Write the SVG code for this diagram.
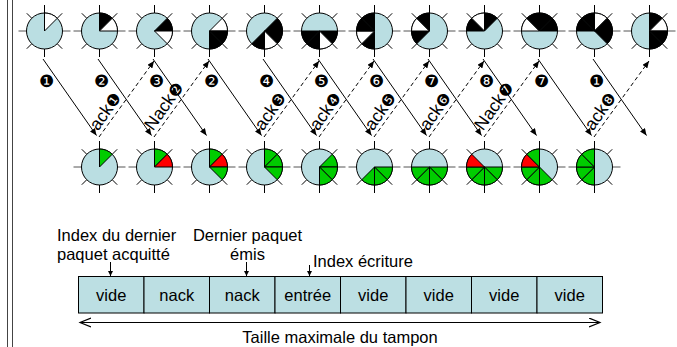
<svg xmlns="http://www.w3.org/2000/svg" xmlns:xlink="http://www.w3.org/1999/xlink" width="677" height="347" viewBox="0 0 677 347">
<style>
.k{fill:#000;stroke:#000;stroke-width:1}
.w{fill:#fff;stroke:#000;stroke-width:1}
.g{fill:#00CC00;stroke:#000;stroke-width:1}
.r{fill:#FF0000;stroke:#000;stroke-width:1}
.txt{font-family:"Liberation Sans",Arial,sans-serif;font-size:16.5px;fill:#000}
.lab{font-family:"Liberation Sans",Arial,sans-serif;font-size:17.5px;fill:#000}
.num{font-family:"DejaVu Sans",sans-serif;font-size:17px;fill:#000}
.num2{font-family:"DejaVu Sans",sans-serif;font-size:16px;fill:#000}
.solid{stroke:#000;stroke-width:1;fill:none;marker-end:url(#ah)}
.dash{stroke:#000;stroke-width:1;fill:none;stroke-dasharray:4 3;marker-end:url(#ah)}
.cell{fill:#BCDFE3;stroke:#000;stroke-width:1}
</style>
<defs>
<marker id="ah" markerUnits="userSpaceOnUse" markerWidth="8" markerHeight="6" refX="7" refY="3" orient="auto">
<path d="M0,0 L7,3 L0,6 Z" fill="#000"/>
</marker>
<marker id="ah2" markerUnits="userSpaceOnUse" markerWidth="6" markerHeight="6" refX="5" refY="2.5" orient="auto">
<path d="M0,0 L5,2.5 L0,5 Z" fill="#000"/>
</marker>
<marker id="chev" markerUnits="userSpaceOnUse" markerWidth="14" markerHeight="12" refX="11" refY="5" orient="auto-start-reverse">
<path d="M0,0.5 L11,5 L0,9.5" fill="none" stroke="#000" stroke-width="1.2"/>
</marker>
<path id="s0" d="M0,0 L0,-18 A18,18 0 0 1 12.728,-12.728 Z"/>
<path id="s1" d="M0,0 L12.728,-12.728 A18,18 0 0 1 18,0 Z"/>
<path id="s2" d="M0,0 L18,0 A18,18 0 0 1 12.728,12.728 Z"/>
<path id="s3" d="M0,0 L12.728,12.728 A18,18 0 0 1 0,18 Z"/>
<path id="s4" d="M0,0 L0,18 A18,18 0 0 1 -12.728,12.728 Z"/>
<path id="s5" d="M0,0 L-12.728,12.728 A18,18 0 0 1 -18,0 Z"/>
<path id="s6" d="M0,0 L-18,0 A18,18 0 0 1 -12.728,-12.728 Z"/>
<path id="s7" d="M0,0 L-12.728,-12.728 A18,18 0 0 1 0,-18 Z"/>
<g id="dial">
<path d="M0,-18V-26 M0,18V26 M12.73,-12.73L17.7,-17.7 M12.73,12.73L17.7,17.7 M-12.73,12.73L-17.7,17.7 M-12.73,-12.73L-17.7,-17.7" stroke="#000" stroke-width="1" fill="none"/>
<path d="M-18,0H-26 M18,0H26" stroke="#555" stroke-width="1" fill="none"/>
<circle r="18" fill="#BADEE2" stroke="#000" stroke-width="1"/>
</g>
</defs>

<rect width="677" height="347" fill="#fff"/>
<g id="frame"><line x1="7.5" y1="0" x2="7.5" y2="347" stroke="#444"/><line x1="12.5" y1="0" x2="12.5" y2="347" stroke="#444"/></g>

<!-- top row (sender) -->
<g id="t0" transform="translate(44.5,31)"><use xlink:href="#dial"/><use xlink:href="#s0" class="w"/></g>
<g id="t1" transform="translate(99.5,31)"><use xlink:href="#dial"/><use xlink:href="#s0" class="k"/><use xlink:href="#s1" class="w"/></g>
<g id="t2" transform="translate(154.5,31)"><use xlink:href="#dial"/><use xlink:href="#s1" class="k"/><use xlink:href="#s2" class="w"/></g>
<g id="t3" transform="translate(209.5,31)"><use xlink:href="#dial"/><use xlink:href="#s1" class="w"/><use xlink:href="#s2" class="k"/><use xlink:href="#s3" class="k"/></g>
<g id="t4" transform="translate(264.5,31)"><use xlink:href="#dial"/><use xlink:href="#s1" class="k"/><use xlink:href="#s2" class="k"/><use xlink:href="#s3" class="w"/><use xlink:href="#s4" class="k"/></g>
<g id="t5" transform="translate(319.5,31)"><use xlink:href="#dial"/><use xlink:href="#s2" class="k"/><use xlink:href="#s3" class="w"/><use xlink:href="#s4" class="k"/><use xlink:href="#s5" class="k"/></g>
<g id="t6" transform="translate(374.5,31)"><use xlink:href="#dial"/><use xlink:href="#s4" class="k"/><use xlink:href="#s5" class="w"/><use xlink:href="#s6" class="k"/><use xlink:href="#s7" class="k"/></g>
<g id="t7" transform="translate(429.5,31)"><use xlink:href="#dial"/><use xlink:href="#s5" class="k"/><use xlink:href="#s6" class="w"/><use xlink:href="#s7" class="k"/></g>
<g id="t8" transform="translate(484.5,31)"><use xlink:href="#dial"/><use xlink:href="#s6" class="k"/><use xlink:href="#s7" class="w"/><use xlink:href="#s0" class="k"/></g>
<g id="t9" transform="translate(539.5,31)"><use xlink:href="#dial"/><use xlink:href="#s6" class="w"/><use xlink:href="#s7" class="k"/><use xlink:href="#s0" class="k"/><use xlink:href="#s1" class="k"/></g>
<g id="t10" transform="translate(594.5,31)"><use xlink:href="#dial"/><use xlink:href="#s6" class="k"/><use xlink:href="#s7" class="k"/><use xlink:href="#s0" class="w"/><use xlink:href="#s1" class="k"/><use xlink:href="#s2" class="k"/></g>
<g id="t11" transform="translate(649.5,31)"><use xlink:href="#dial"/><use xlink:href="#s0" class="k"/><use xlink:href="#s1" class="w"/><use xlink:href="#s2" class="k"/><use xlink:href="#s3" class="k"/></g>

<!-- bottom row (receiver) -->
<g id="b1" transform="translate(99.5,167)"><use xlink:href="#dial"/><use xlink:href="#s0" class="g"/></g>
<g id="b2" transform="translate(154.5,167)"><use xlink:href="#dial"/><use xlink:href="#s0" class="g"/><use xlink:href="#s1" class="r"/></g>
<g id="b3" transform="translate(209.5,167)"><use xlink:href="#dial"/><use xlink:href="#s0" class="g"/><use xlink:href="#s1" class="r"/><use xlink:href="#s2" class="g"/></g>
<g id="b4" transform="translate(264.5,167)"><use xlink:href="#dial"/><use xlink:href="#s0" class="g"/><use xlink:href="#s1" class="g"/><use xlink:href="#s2" class="g"/></g>
<g id="b5" transform="translate(319.5,167)"><use xlink:href="#dial"/><use xlink:href="#s1" class="g"/><use xlink:href="#s2" class="g"/><use xlink:href="#s3" class="g"/></g>
<g id="b6" transform="translate(374.5,167)"><use xlink:href="#dial"/><use xlink:href="#s2" class="g"/><use xlink:href="#s3" class="g"/><use xlink:href="#s4" class="g"/></g>
<g id="b7" transform="translate(429.5,167)"><use xlink:href="#dial"/><use xlink:href="#s2" class="g"/><use xlink:href="#s3" class="g"/><use xlink:href="#s4" class="g"/><use xlink:href="#s5" class="g"/></g>
<g id="b8" transform="translate(484.5,167)"><use xlink:href="#dial"/><use xlink:href="#s2" class="g"/><use xlink:href="#s3" class="g"/><use xlink:href="#s4" class="g"/><use xlink:href="#s5" class="g"/><use xlink:href="#s6" class="r"/></g>
<g id="b9" transform="translate(539.5,167)"><use xlink:href="#dial"/><use xlink:href="#s3" class="g"/><use xlink:href="#s4" class="g"/><use xlink:href="#s5" class="g"/><use xlink:href="#s6" class="r"/><use xlink:href="#s7" class="g"/></g>
<g id="b10" transform="translate(594.5,167)"><use xlink:href="#dial"/><use xlink:href="#s4" class="g"/><use xlink:href="#s5" class="g"/><use xlink:href="#s6" class="g"/><use xlink:href="#s7" class="g"/></g>

<!-- connectors -->
<g id="connectors">
<line class="solid" x1="43" y1="59" x2="96.5" y2="135.5"/>
<line class="solid" x1="98" y1="59" x2="151.5" y2="135.5"/>
<line class="solid" x1="153" y1="59" x2="206.5" y2="135.5"/>
<line class="solid" x1="208" y1="59" x2="261.5" y2="135.5"/>
<line class="solid" x1="263" y1="59" x2="316.5" y2="135.5"/>
<line class="solid" x1="318" y1="59" x2="371.5" y2="135.5"/>
<line class="solid" x1="373" y1="59" x2="426.5" y2="135.5"/>
<line class="solid" x1="428" y1="59" x2="481.5" y2="135.5"/>
<line class="solid" x1="483" y1="59" x2="536.5" y2="135.5"/>
<line class="solid" x1="538" y1="59" x2="591.5" y2="135.5"/>
<line class="solid" x1="593" y1="59" x2="646.5" y2="135.5"/>
<line class="dash" x1="99" y1="137" x2="154" y2="61"/>
<line class="dash" x1="154" y1="137" x2="209" y2="61"/>
<line class="dash" x1="264" y1="137" x2="319" y2="61"/>
<line class="dash" x1="319" y1="137" x2="374" y2="61"/>
<line class="dash" x1="374" y1="137" x2="429" y2="61"/>
<line class="dash" x1="429" y1="137" x2="484" y2="61"/>
<line class="dash" x1="484" y1="137" x2="539" y2="61"/>
<line class="dash" x1="594" y1="137" x2="649" y2="61"/>
</g>

<!-- packet labels -->
<g id="packet-labels" text-anchor="middle">
<text class="num" x="46.5" y="87">❶</text>
<text class="num" x="101.5" y="87">❷</text>
<text class="num" x="156.5" y="87">❸</text>
<text class="num" x="211.5" y="87">❷</text>
<text class="num" x="266.5" y="87">❹</text>
<text class="num" x="321.5" y="87">❺</text>
<text class="num" x="376.5" y="87">❻</text>
<text class="num" x="431.5" y="87">❼</text>
<text class="num" x="486.5" y="87">❽</text>
<text class="num" x="541.5" y="87">❼</text>
<text class="num" x="596.5" y="87">❶</text>
</g>

<!-- ack labels -->
<g id="ack-labels">
<text class="lab" transform="translate(99,137) rotate(-54.6)" x="4" y="-4">ack<tspan class="num2">❶</tspan></text>
<text class="lab" transform="translate(154,137) rotate(-54.6)" x="4" y="-4">Nack<tspan class="num2">❷</tspan></text>
<text class="lab" transform="translate(264,137) rotate(-54.6)" x="4" y="-4">ack<tspan class="num2">❸</tspan></text>
<text class="lab" transform="translate(319,137) rotate(-54.6)" x="4" y="-4">ack<tspan class="num2">❹</tspan></text>
<text class="lab" transform="translate(374,137) rotate(-54.6)" x="4" y="-4">ack<tspan class="num2">❺</tspan></text>
<text class="lab" transform="translate(429,137) rotate(-54.6)" x="4" y="-4">ack<tspan class="num2">❻</tspan></text>
<text class="lab" transform="translate(484,137) rotate(-54.6)" x="4" y="-4">Nack<tspan class="num2">❼</tspan></text>
<text class="lab" transform="translate(594,137) rotate(-54.6)" x="4" y="-4">ack<tspan class="num2">❽</tspan></text>
</g>

<!-- buffer -->
<g id="buffer">
<rect class="cell" x="78.5" y="276.5" width="65.5" height="36.5"/>
<rect class="cell" x="144" y="276.5" width="65.5" height="36.5"/>
<rect class="cell" x="209.5" y="276.5" width="65.5" height="36.5"/>
<rect class="cell" x="275" y="276.5" width="65.5" height="36.5"/>
<rect class="cell" x="340.5" y="276.5" width="65.5" height="36.5"/>
<rect class="cell" x="406" y="276.5" width="65.5" height="36.5"/>
<rect class="cell" x="471.5" y="276.5" width="65.5" height="36.5"/>
<rect class="cell" x="537" y="276.5" width="65.5" height="36.5"/>
<g class="txt" text-anchor="middle">
<text x="111.25" y="301">vide</text>
<text x="176.75" y="301">nack</text>
<text x="242.25" y="301">nack</text>
<text x="307.75" y="301">entrée</text>
<text x="373.25" y="301">vide</text>
<text x="438.75" y="301">vide</text>
<text x="504.25" y="301">vide</text>
<text x="569.75" y="301">vide</text>
</g>
</g>

<g id="pointers">
<line x1="110.5" y1="262" x2="110.5" y2="276" stroke="#000" marker-end="url(#ah2)"/>
<line x1="246.5" y1="262" x2="246.5" y2="276" stroke="#000" marker-end="url(#ah2)"/>
<line x1="309.5" y1="265" x2="309.5" y2="276" stroke="#000" marker-end="url(#ah2)"/>
</g>

<g id="size-arrow">
<line x1="80" y1="322.5" x2="600" y2="322.5" stroke="#000" stroke-width="1.2" marker-start="url(#chev)" marker-end="url(#chev)"/>
</g>

<g id="texts" class="txt">
<text x="57" y="241">Index du dernier</text>
<text x="57" y="260">paquet acquitté</text>
<text x="247.5" y="241" text-anchor="middle">Dernier paquet</text>
<text x="247.5" y="260" text-anchor="middle">émis</text>
<text x="313" y="267">Index écriture</text>
<text x="340" y="343" text-anchor="middle">Taille maximale du tampon</text>
</g>
</svg>
